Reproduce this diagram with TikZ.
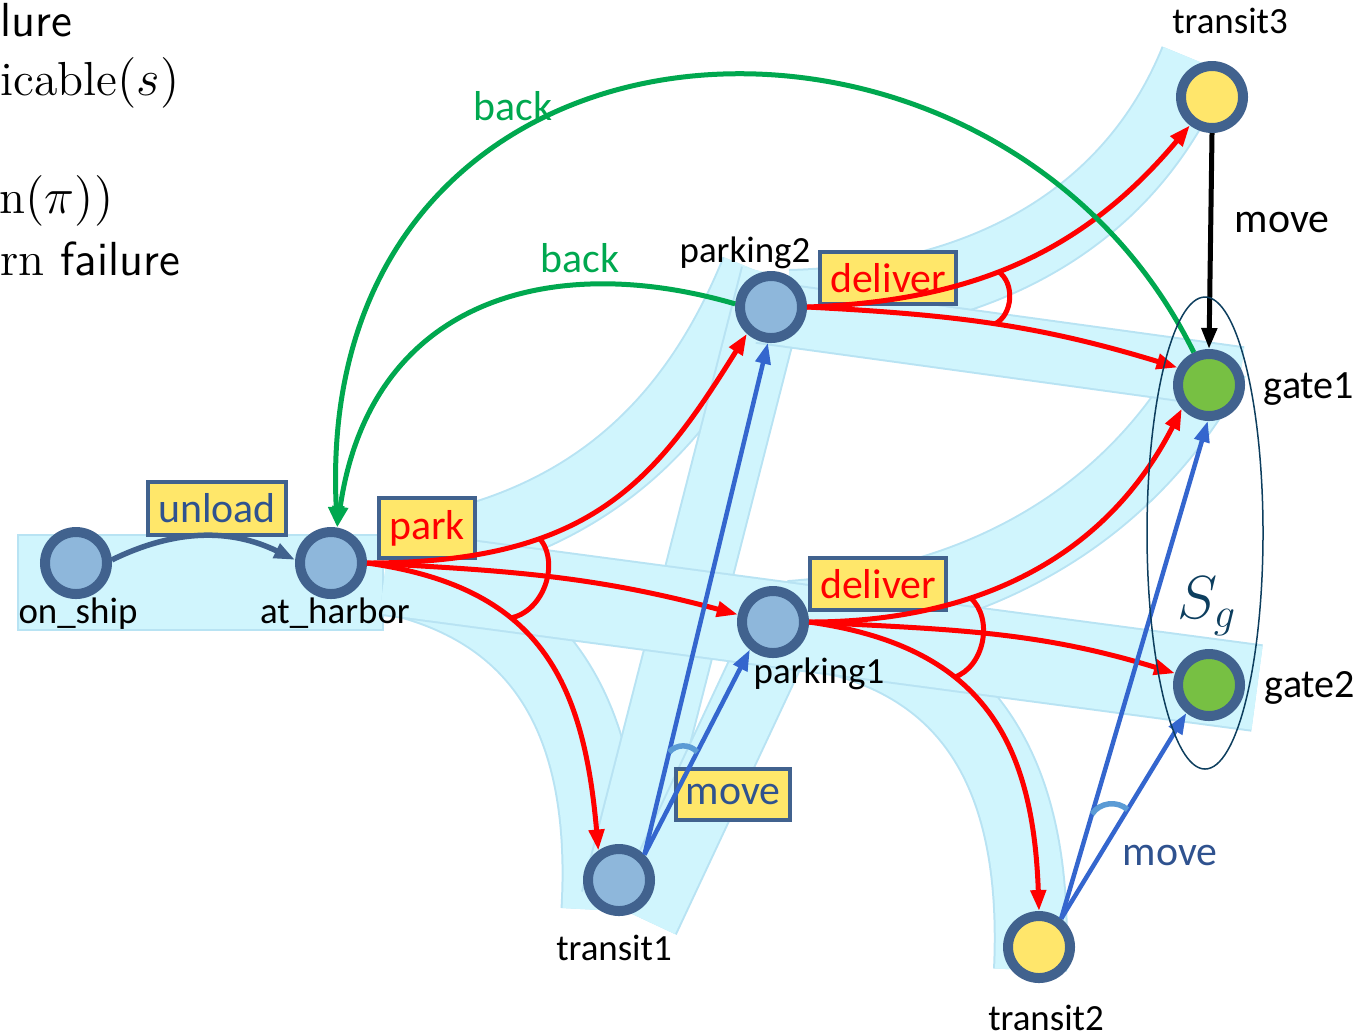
\documentclass[tikz,border=0pt]{standalone}
\usepackage{fontspec}
\newfontfamily\diagfont{Carlito}
\usetikzlibrary{arrows.meta, positioning}
\definecolor{ringblue}{HTML}{41628E}
\definecolor{stateblue}{HTML}{8EB7DB}
\definecolor{goalgreen}{HTML}{77C043}
\definecolor{transyellow}{HTML}{FFE66B}
\definecolor{boxyellow}{HTML}{FFE76A}
\definecolor{backgreen}{HTML}{00A84F}
\definecolor{movblue}{HTML}{3466CE}
\definecolor{darkblue}{HTML}{2F528F}
\definecolor{tickblue}{HTML}{5B9BD5}
\definecolor{bandfill}{HTML}{D0F5FD}
\definecolor{bandedge}{HTML}{B8E3F3}
\definecolor{sgblue}{HTML}{0D3E5E}

\begin{document}
\begin{tikzpicture}[> = {Triangle[length=2.1mm, width=1.5mm]},
    state/.style={circle, minimum size=6.2mm, inner sep=0pt, line width=1mm, draw=ringblue, fill=stateblue},
    goal/.style={state, fill=goalgreen},
    transit/.style={state, fill=transyellow},
    lbl/.style={anchor=base, inner sep=0pt, font=\diagfont\fontsize{10.5}{12}\selectfont},
    glbl/.style={lbl, font=\diagfont\fontsize{11.4}{13}\selectfont},
    actbox/.style={draw=ringblue, line width=0.4mm, fill=boxyellow, inner xsep=1mm, minimum height=5.1mm, font=\diagfont\fontsize{11.9}{14}\selectfont},
    acttext/.style={anchor=base, inner sep=0pt, font=\diagfont\fontsize{11.9}{14}\selectfont},
    frag/.style={anchor=base west, inner sep=0pt, font=\fontsize{13.6}{16}\selectfont},
    ribbon/.style={draw=bandedge, line width=0.2mm, double=bandfill, double distance=#1},
    nondet/.style={->, red, line width=0.5mm},
    andarc/.style={red, line width=0.5mm},
    movarrow/.style={->, movblue, line width=0.45mm},
    movtick/.style={tickblue, line width=0.55mm},
    backarrow/.style={->, backgreen, line width=0.5mm}]
    \useasboundingbox (0,0) rectangle (13.72,-10.35);

    \fill[bandfill, draw=bandedge, line width=0.2mm] (0.18,-5.35) rectangle (3.83,-6.30);
    \draw[ribbon=7.5mm] (3.9,-5.75) .. controls (5.5,-6.1) and (6.1,-7.3) .. (6.0,-9.1);
    \draw[ribbon=6.6mm] (3.9,-5.55) .. controls (5.8,-5.3) and (6.9,-4.3) .. (7.55,-2.7);
    \draw[ribbon=6.6mm] (6.15,-9.0) -- (7.75,-2.75);
    \draw[ribbon=6.6mm] (6.45,-9.2) -- (7.95,-6.0);
    \draw[ribbon=6.8mm] (7.9,-3.05) .. controls (9.8,-3.0) and (11.3,-2.2) .. (11.95,-0.6);
    \draw[ribbon=6.6mm] (7.9,-6.15) .. controls (10.0,-6.0) and (11.4,-5.0) .. (12.15,-3.6);
    \draw[ribbon=7mm] (7.9,-6.3) .. controls (9.5,-6.5) and (10.4,-7.5) .. (10.3,-9.7);
    \draw[ribbon=6mm] (7.6,-3.12) -- (12.4,-3.78);
    \draw[ribbon=8.4mm] (3.85,-5.72) -- (12.57,-6.88);

    \node[frag] (frag1) at (0,-0.36) {\sffamily lure};
    \node[frag] (frag2) at (0,-0.95) {icable$(s)$};
    \node[frag] (frag3) at (-0.01,-2.13) {n$(\pi))$};
    \node[frag] (frag4) at (0,-2.75) {rn \textsf{failure}};

    \node[state] (ship) at (0.76,-5.63) {};
    \node[state] (harbor) at (3.31,-5.63) {};
    \node[state] (park2) at (7.71,-3.07) {};
    \node[state] (park1) at (7.73,-6.22) {};
    \node[state] (t1) at (6.19,-8.80) {};
    \node[transit] (t2) at (10.39,-9.47) {};
    \node[transit] (t3) at (12.12,-0.97) {};
    \node[goal] (gate1) at (12.09,-3.85) {};
    \node[goal] (gate2) at (12.09,-6.85) {};

    \node[lbl] (shiplbl) at (0.78,-6.23) {on\_ship};
    \node[lbl] (harborlbl) at (3.35,-6.23) {at\_harbor};
    \node[lbl] (park2lbl) at (7.45,-2.62) {parking2};
    \node[lbl] (park1lbl) at (8.19,-6.83) {parking1};
    \node[lbl] (t1lbl) at (6.14,-9.60) {transit1};
    \node[lbl] (t2lbl) at (10.46,-10.30) {transit2};
    \node[lbl] (t3lbl) at (12.30,-0.33) {transit3};
    \node[glbl] (gate1lbl) at (13.09,-3.98) {gate1};
    \node[glbl] (gate2lbl) at (13.10,-6.97) {gate2};

    \node[actbox, text=darkblue] (unloadbox) at (2.17,-5.085) {unload};
    \node[actbox, text=red] (parkbox) at (4.27,-5.28) {park};
    \node[actbox, text=red] (deliverbox2) at (8.88,-2.78) {deliver};
    \node[actbox, text=red] (deliverbox1) at (8.78,-5.84) {deliver};
    \node[actbox, text=darkblue] (movebox) at (7.33,-7.94) {move};

    \node[acttext, text=backgreen] (back1) at (5.13,-1.20) {back};
    \node[acttext, text=backgreen] (back2) at (5.80,-2.72) {back};
    \node[acttext] (move3) at (12.82,-2.32) {move};
    \node[acttext, text=darkblue] (move2) at (11.70,-8.65) {move};

    \draw[->, ringblue, line width=0.55mm] (ship.5) to[bend left=26] (harbor.175);

    \draw[nondet] (harbor.east) to[out=0, in=238, out looseness=1.3, in looseness=1] coordinate[pos=0.32] (hp2) (park2.228);
    \draw[nondet] (harbor.east) to[out=-3, in=165] (park1.168);
    \draw[nondet] (harbor.east) to[out=-8, in=95, looseness=1.2] coordinate[pos=0.37] (ht1) (t1.125);
    \draw[andarc] (hp2) to[bend left=60] (ht1);

    \draw[nondet] (park2.east) to[out=2, in=230] coordinate[pos=0.44] (pt3) (t3.232);
    \draw[nondet] (park2.east) to[out=-3, in=163] coordinate[pos=0.5] (pg1) (gate1.151);
    \draw[andarc] (pt3) to[bend left=60] (pg1);

    \draw[nondet] (park1.east) to[out=0, in=243] coordinate[pos=0.35] (qg1) (gate1.221);
    \draw[nondet] (park1.east) to[out=-3, in=163] (gate2.161);
    \draw[nondet] (park1.east) to[out=-8, in=92, looseness=1.2] coordinate[pos=0.37] (qt2) (t2.north);
    \draw[andarc] (qg1) to[bend left=60] (qt2);

    \draw[movarrow] (t1.north east) -- coordinate[pos=0.2] (mp2) (park2.265);
    \draw[movarrow] (t1.north east) -- coordinate[pos=0.5] (mp1) (park1.230);
    \draw[movtick] (mp2) to[bend left=50] (mp1);
    \draw[movarrow] (t2.52) -- coordinate[pos=0.21] (ng1) (gate1.268);
    \draw[movarrow] (t2.52) -- coordinate[pos=0.53] (ng2) (gate2.231);
    \draw[movtick] (ng1) to[bend left=50] (ng2);

    \draw[->, line width=0.5mm] (t3.south) -- (gate1.north);

    \draw[backarrow] (gate1.115) .. controls (9.9,0.6) and (3.1,0.2) .. (harbor.80);
    \draw[backarrow] (park2.175) .. controls (5.5,-2.5) and (3.7,-3.0) .. (harbor.80);

    \draw[sgblue, line width=0.15mm] (12.05,-5.33) ellipse [x radius=0.58, y radius=2.36];
    \node[text=sgblue, font=\fontsize{18}{21}\selectfont] (sg) at (12.07,-6.06) {$S_g$};
\end{tikzpicture}
\end{document}
